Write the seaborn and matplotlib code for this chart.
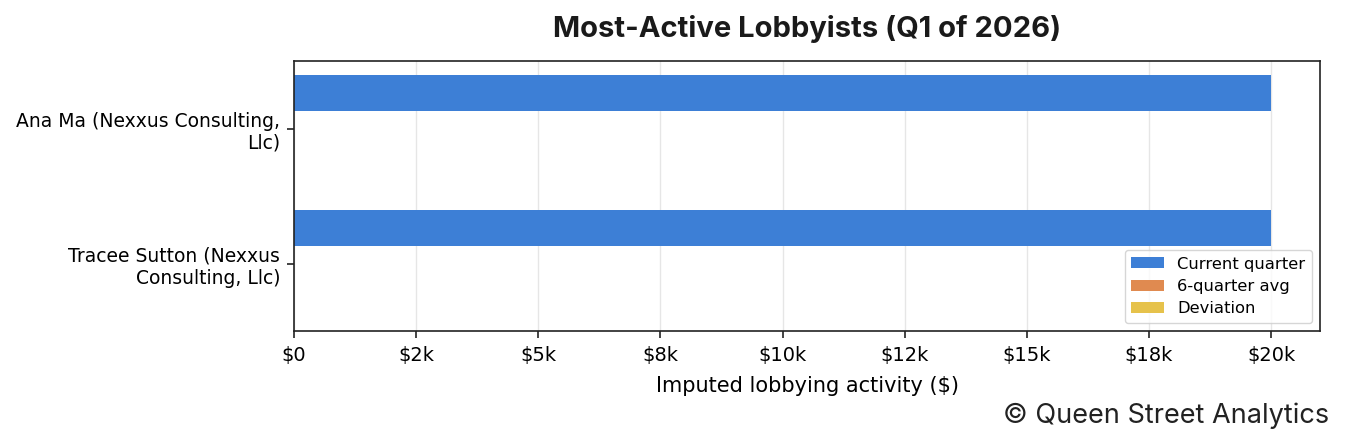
import textwrap

import matplotlib
matplotlib.use("Agg")
import matplotlib.pyplot as plt
import matplotlib.ticker as mticker
import pandas as pd
import seaborn as sns

# Chart data
lobbyists = ["Ana Ma (Nexxus Consulting, Llc)", "Tracee Sutton (Nexxus Consulting, Llc)"]
metrics = ["Current quarter", "6-quarter avg", "Deviation"]
current_quarter = [20000, 20000]
six_quarter_avg = [0, 0]
deviation = [0, 0]
x_ticks = [0, 2500, 5000, 7500, 10000, 12500, 15000, 17500, 20000]

COLORS = ["#3d7fd6", "#e08a50", "#e6c24b"]

sns.set_theme(style="white")
plt.rcParams["font.family"] = ["DejaVu Sans"]
plt.rcParams["text.color"] = "black"
plt.rcParams["axes.labelcolor"] = "black"
plt.rcParams["xtick.color"] = "black"
plt.rcParams["ytick.color"] = "black"

rows = []
for name, series in zip(metrics, [current_quarter, six_quarter_avg, deviation]):
    for who, val in zip(lobbyists, series):
        rows.append({"lobbyist": textwrap.fill(who, 26), "metric": name, "value": val})
df = pd.DataFrame(rows)

fig, ax = plt.subplots(figsize=(13.45, 4.44), dpi=100)
fig.subplots_adjust(left=0.2186, right=0.9814, top=0.8626, bottom=0.2545)

sns.barplot(
    data=df, y="lobbyist", x="value", hue="metric", hue_order=metrics,
    palette=COLORS, orient="h", width=0.8, ax=ax, saturation=1, zorder=2,
    linewidth=0,
)

ax.set_xticks(x_ticks)
ax.set_xlim(0, 21000)
ax.xaxis.set_major_formatter(mticker.FuncFormatter(lambda v, _: "$0" if v == 0 else f"${v / 1000:.0f}k"))
ax.grid(axis="x", color="#e6e6e6", linewidth=1, zorder=0)
ax.grid(axis="y", visible=False)
ax.set_axisbelow(True)
ax.tick_params(axis="x", labelsize=14, length=5, width=1.2, color="#222222", bottom=True, pad=6)
ax.tick_params(axis="y", labelsize=13.5, length=5, width=1.2, color="#222222", left=True, pad=5)
for sp in ax.spines.values():
    sp.set_color("#222222")
    sp.set_linewidth(1.2)

ax.set_xlabel("Imputed lobbying activity ($)", fontsize=15, labelpad=8)
ax.set_ylabel("")
ax.set_title("Most-Active Lobbyists (Q1 of 2026)", fontsize=21, fontweight="bold",
             family=["Inter", "DejaVu Sans"], color="#1a1a1a", pad=17)

ax.legend(loc="lower right", fontsize=11.8, frameon=True, edgecolor="#cccccc",
          fancybox=True, borderpad=0.4, labelspacing=0.45, handlelength=2.0,
          handleheight=0.65)

fig.text(0.9885, 0.033, "\u00a9 Queen Street Analytics", ha="right", va="bottom",
         fontsize=19.5, family=["Inter", "DejaVu Sans"], color="#222222")

fig.savefig("out.png", dpi=100)
